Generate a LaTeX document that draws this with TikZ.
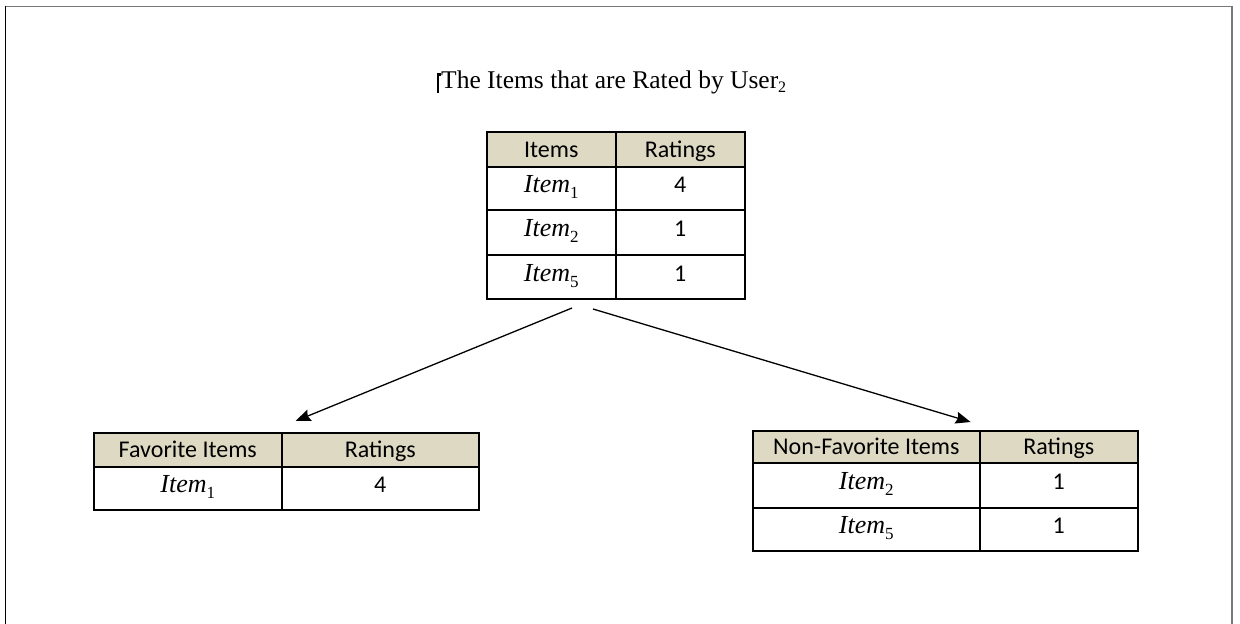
\documentclass[tikz,border=0pt]{standalone}
\usepackage{fontspec}
\setmainfont{Liberation Serif}
\newfontfamily\cellfont{Carlito}
\usetikzlibrary{arrows.meta,calc}
\definecolor{headtan}{RGB}{221,217,195}
\definecolor{framegray}{RGB}{120,120,120}
% lowered small subscript digit
\newcommand\lowsub[3]{\raisebox{-#2pt}{\fontsize{#1}{#1}\selectfont\upshape #3}}
\newcommand\itemsub[1]{Item\lowsub{17}{6}{#1}}
\begin{document}
\begin{tikzpicture}[x=1pt,y=-1pt,
  cell/.style={draw=black, line width=1.6pt, anchor=north west, inner sep=0pt,
    text height=16pt, text depth=7pt,
    font=\cellfont\fontsize{24}{26}\selectfont},
  headcell/.style={cell, fill=headtan, text depth=0pt},
  itemcell/.style={cell, font=\fontsize{26}{28}\selectfont\itshape},
  arr/.style={line width=1.3pt, -{Stealth[length=15pt,width=12pt,inset=2pt]}}]
\useasboundingbox (0,0) rectangle (1240,624);

% page frame
\draw[framegray, line width=1.6pt] (5,6.5) -- (1232,6.5) -- (1232,624);
\draw[black, line width=1.6pt] (5.5,6) -- (5.5,624);

% title
\draw[line width=2.6pt] (441,74.5) -- (437.8,74.5) -- (437.8,93);
\node[anchor=base west, inner sep=0pt, font=\fontsize{25.5}{28}\selectfont]
  (title) at (441,88) {The Items that are Rated by User\lowsub{16}{4}{2}};

% items rated by the user
\node[headcell, minimum width=129, minimum height=35] (t-h1) at (486,131) {Items};
\node[headcell, minimum width=129, minimum height=35] (t-h2) at (615,131) {Ratings};
\node[itemcell, minimum width=129, minimum height=43] (t-a1) at (486,166) {\itemsub{1}};
\node[cell, minimum width=129, minimum height=43] (t-b1) at (615,166) {4};
\node[itemcell, minimum width=129, minimum height=45] (t-a2) at (486,209) {\itemsub{2}};
\node[cell, minimum width=129, minimum height=45] (t-b2) at (615,209) {1};
\node[itemcell, minimum width=129, minimum height=44] (t-a3) at (486,254) {\itemsub{5}};
\node[cell, minimum width=129, minimum height=44] (t-b3) at (615,254) {1};

% favorite items
\node[headcell, minimum width=188, minimum height=34] (f-h1) at (93,432) {Favorite Items};
\node[headcell, minimum width=197, minimum height=34] (f-h2) at (281,432) {Ratings};
\node[itemcell, minimum width=188, minimum height=43] (f-a1) at (93,466) {\itemsub{1}};
\node[cell, minimum width=197, minimum height=43] (f-b1) at (281,466) {4};

% non-favorite items
\node[headcell, minimum width=227, minimum height=32] (n-h1) at (752,430) {Non-Favorite Items};
\node[headcell, minimum width=158, minimum height=32] (n-h2) at (979,430) {Ratings};
\node[itemcell, minimum width=227, minimum height=45] (n-a1) at (752,462) {\itemsub{2}};
\node[cell, minimum width=158, minimum height=45] (n-b1) at (979,462) {1};
\node[itemcell, minimum width=227, minimum height=43] (n-a2) at (752,507) {\itemsub{5}};
\node[cell, minimum width=158, minimum height=43] (n-b2) at (979,507) {1};

% split arrows
\coordinate (split-l) at (572,308);
\coordinate (split-r) at (593,309);
\draw[arr] (split-l) -- ($(f-h1.north east)+(13,-11)$);
\draw[arr] (split-r) -- ($(n-h1.north east)+(-10,-8)$);
\end{tikzpicture}
\end{document}
